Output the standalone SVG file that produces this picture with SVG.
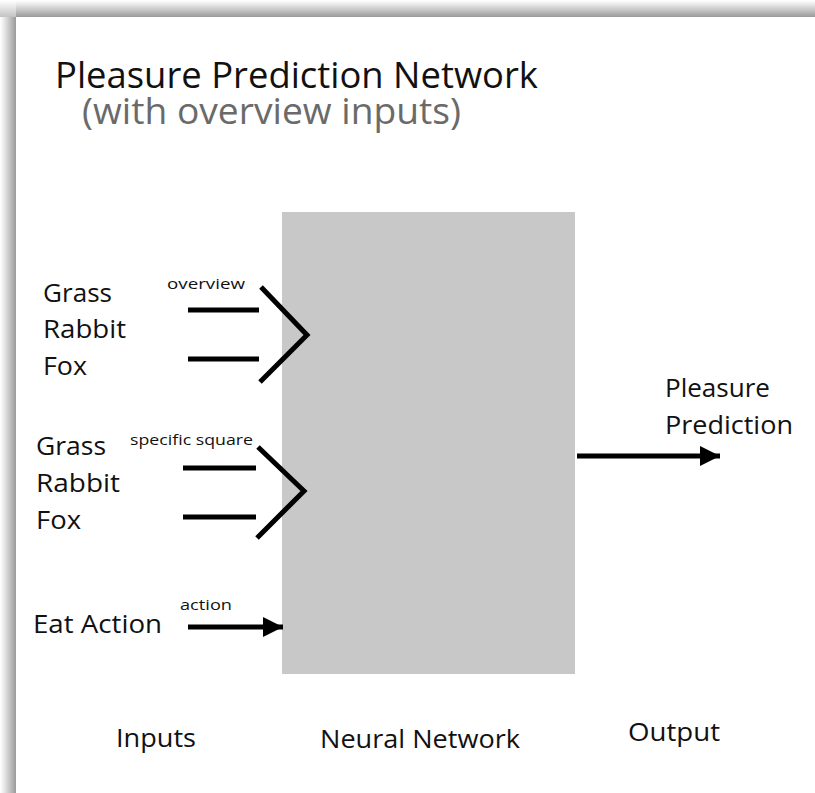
<svg xmlns="http://www.w3.org/2000/svg" width="815" height="793" viewBox="0 0 815 793">
<defs>
<linearGradient id="gTop" x1="0" y1="0" x2="0" y2="1">
<stop offset="0" stop-color="#ffffff"/>
<stop offset="0.2" stop-color="#eeeeee"/>
<stop offset="1" stop-color="#9a9a9a"/>
</linearGradient>
<linearGradient id="gLeft" x1="0" y1="0" x2="1" y2="0">
<stop offset="0" stop-color="#ffffff"/>
<stop offset="0.2" stop-color="#eeeeee"/>
<stop offset="1" stop-color="#9a9a9a"/>
</linearGradient>
<marker id="ah" viewBox="0 0 10 10" refX="10" refY="5" markerWidth="4.6" markerHeight="4" markerUnits="strokeWidth" orient="auto">
<path d="M0,0 L10,5 L0,10 z" fill="#000"/>
</marker>
<style>
text{font-family:"Open Sans","Noto Sans","Liberation Sans",sans-serif;fill:#111;}
.big{font-size:37px;}
.lbl{font-size:26px;}
.sm{font-size:15px;}
.ln{stroke:#000;stroke-width:5;fill:none;}
.chev{stroke:#000;stroke-width:5;fill:none;stroke-linejoin:miter;}
</style>
</defs>
<rect x="0" y="0" width="815" height="793" fill="#fff"/>
<rect x="0" y="0" width="815" height="17" fill="url(#gTop)"/>
<rect x="0" y="17" width="16" height="776" fill="url(#gLeft)"/>
<rect x="0" y="0" width="16" height="17" fill="#fff" opacity="0.4"/>

<g id="title">
<text class="big" x="55" y="88" textLength="483" lengthAdjust="spacingAndGlyphs">Pleasure Prediction Network</text>
<text class="big" x="82" y="124" textLength="379" lengthAdjust="spacingAndGlyphs" style="fill:#6a6a6a">(with overview inputs)</text>
</g>

<g id="neural-network">
<rect x="282" y="212" width="293" height="462" fill="#c8c8c8"/>
</g>

<g id="overview-inputs">
<text class="lbl" x="43" y="302" textLength="69" lengthAdjust="spacingAndGlyphs">Grass</text>
<text class="lbl" x="43" y="338" textLength="83" lengthAdjust="spacingAndGlyphs">Rabbit</text>
<text class="lbl" x="43" y="375" textLength="44" lengthAdjust="spacingAndGlyphs">Fox</text>
<text class="sm" x="167" y="289" textLength="78" lengthAdjust="spacingAndGlyphs">overview</text>
</g>

<g id="specific-inputs">
<text class="lbl" x="36" y="455" textLength="70" lengthAdjust="spacingAndGlyphs">Grass</text>
<text class="lbl" x="36" y="492" textLength="84" lengthAdjust="spacingAndGlyphs">Rabbit</text>
<text class="lbl" x="36" y="529" textLength="45" lengthAdjust="spacingAndGlyphs">Fox</text>
<text class="sm" x="130" y="445" textLength="123" lengthAdjust="spacingAndGlyphs">specific square</text>
</g>

<g id="action-input">
<text class="lbl" x="33" y="633" textLength="129" lengthAdjust="spacingAndGlyphs">Eat Action</text>
<text class="sm" x="180" y="610" textLength="52" lengthAdjust="spacingAndGlyphs">action</text>
</g>

<g id="output">
<text class="lbl" x="665" y="397" textLength="105" lengthAdjust="spacingAndGlyphs">Pleasure</text>
<text class="lbl" x="665" y="434" textLength="128" lengthAdjust="spacingAndGlyphs">Prediction</text>
</g>

<g id="section-labels">
<text class="lbl" x="116" y="747" textLength="80" lengthAdjust="spacingAndGlyphs">Inputs</text>
<text class="lbl" x="320" y="748" textLength="200" lengthAdjust="spacingAndGlyphs">Neural Network</text>
<text class="lbl" x="628" y="741" textLength="92" lengthAdjust="spacingAndGlyphs">Output</text>
</g>

<g id="connectors">
<line class="ln" x1="188" y1="310" x2="259" y2="310"/>
<line class="ln" x1="188" y1="359" x2="259" y2="359"/>
<polyline class="chev" points="261,287 307,335 260,382"/>
<line class="ln" x1="183" y1="468" x2="256" y2="468"/>
<line class="ln" x1="183" y1="517" x2="256" y2="517"/>
<polyline class="chev" points="258,447 304,491 257,538"/>
<line class="ln" x1="188" y1="627" x2="283" y2="627" marker-end="url(#ah)"/>
<line class="ln" x1="577" y1="456" x2="720" y2="456" marker-end="url(#ah)"/>
</g>
</svg>
